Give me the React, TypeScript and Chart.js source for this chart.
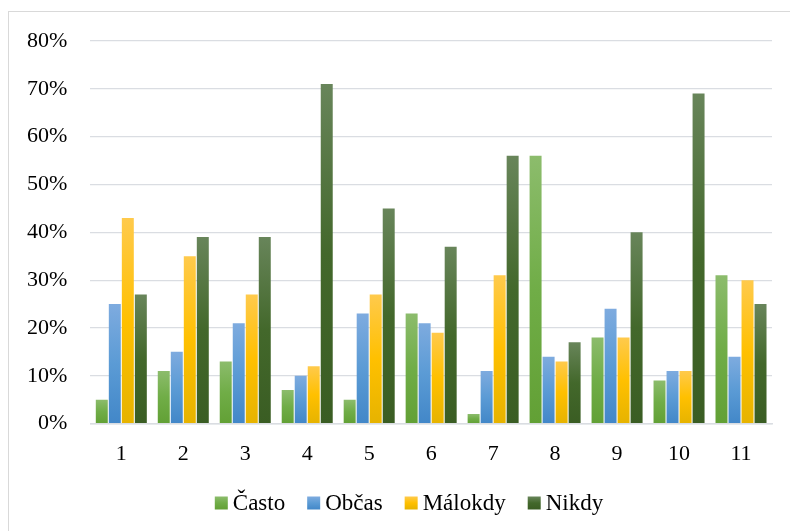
import React, { useEffect, useRef } from "react";
import { Chart, registerables } from "chart.js";

Chart.register(...registerables);

const categories = ["1", "2", "3", "4", "5", "6", "7", "8", "9", "10", "11"];
const casto = [5, 11, 13, 7, 5, 23, 2, 56, 18, 9, 31];
const obcas = [25, 15, 21, 10, 23, 21, 11, 14, 24, 11, 14];
const malokdy = [43, 35, 27, 12, 27, 19, 31, 13, 18, 11, 30];
const nikdy = [27, 39, 39, 71, 45, 37, 56, 17, 40, 69, 25];
const seriesNames = ["Často", "Občas", "Málokdy", "Nikdy"];
const yMax = 80;
const yStep = 10;

const palette: [string, string, string][] = [
  ["#8cbc6c", "#70ad47", "#62a035"],
  ["#7eabdf", "#5b9bd5", "#4287c8"],
  ["#ffca4c", "#ffc000", "#e6b300"],
  ["#68855a", "#43682b", "#3a5d23"],
];

const FONT = '"Liberation Serif", "Times New Roman", serif';

const gradientFill = (stops: [string, string, string]) => (ctx: any) => {
  const chart = ctx.chart;
  const { chartArea, scales } = chart;
  if (!chartArea || ctx.type !== "data" || !scales.y) return stops[1];
  const top = scales.y.getPixelForValue(ctx.raw);
  const base = scales.y.getPixelForValue(0);
  if (!(base > top)) return stops[1];
  const g = chart.ctx.createLinearGradient(0, top, 0, base);
  g.addColorStop(0, stops[0]);
  g.addColorStop(0.5, stops[1]);
  g.addColorStop(1, stops[2]);
  return g;
};

const legendPlugin = {
  id: "customLegend",
  afterDraw(chart: any) {
    const c = chart.ctx as CanvasRenderingContext2D;
    c.save();
    c.font = `23px ${FONT}`;
    const box = 13;
    const gapText = 5;
    const gapItem = 22;
    const centerX = 409;
    const y = 503;
    const items = chart.data.datasets.map((ds: any, i: number) => ({
      label: ds.label as string,
      stops: palette[i],
      w: c.measureText(ds.label).width,
    }));
    const total =
      items.reduce((s: number, it: any) => s + box + gapText + it.w, 0) +
      gapItem * (items.length - 1);
    let x = centerX - total / 2;
    c.textBaseline = "middle";
    c.textAlign = "left";
    for (const it of items) {
      const g = c.createLinearGradient(0, y - box / 2, 0, y + box / 2);
      g.addColorStop(0, it.stops[0]);
      g.addColorStop(0.5, it.stops[1]);
      g.addColorStop(1, it.stops[2]);
      c.fillStyle = g;
      c.fillRect(x, y - box / 2, box, box);
      c.fillStyle = "#000000";
      c.fillText(it.label, x + box + gapText, y + 1);
      x += box + gapText + it.w + gapItem;
    }
    c.restore();
  },
};

export default function App() {
  const canvasRef = useRef<HTMLCanvasElement | null>(null);

  useEffect(() => {
    if (!canvasRef.current) return;
    const seriesValues = [casto, obcas, malokdy, nikdy];
    const chart = new Chart(canvasRef.current, {
      type: "bar",
      data: {
        labels: categories,
        datasets: seriesValues.map((vals, i) => ({
          label: seriesNames[i],
          data: vals,
          backgroundColor: gradientFill(palette[i]),
          borderWidth: 0,
          categoryPercentage: 0.84,
          barPercentage: 0.92,
        })),
      },
      options: {
        animation: false,
        responsive: false,
        maintainAspectRatio: false,
        layout: { padding: { top: 41, left: 4, right: 18, bottom: 55 } },
        plugins: {
          legend: { display: false },
          tooltip: { enabled: false },
        },
        scales: {
          x: {
            grid: { display: false },
            border: { display: true, color: "#dadde2", width: 1.5 },
            ticks: {
              color: "#000000",
              font: { family: FONT, size: 22, lineHeight: 1.2 },
              padding: 9,
              maxRotation: 0,
            },
          },
          y: {
            min: 0,
            max: yMax,
            border: { display: false },
            grid: { color: "#dadde2", lineWidth: 1.2, drawTicks: false },
            ticks: {
              stepSize: yStep,
              color: "#000000",
              font: { family: FONT, size: 22, lineHeight: 1.2 },
              padding: 23,
              callback: (v: any) => `${v}%`,
            },
          },
        },
      },
      plugins: [legendPlugin],
    });
    return () => chart.destroy();
  }, []);

  return (
    <div
      style={{
        position: "fixed",
        left: 0,
        top: 0,
        width: 790,
        height: 531,
        overflow: "hidden",
        background: "#ffffff",
      }}
    >
      <div
        style={{
          position: "absolute",
          left: 8,
          top: 11,
          width: 810,
          height: 560,
          border: "1px solid #d9d9d9",
        }}
      />
      <canvas
        ref={canvasRef}
        width={790}
        height={531}
        style={{ position: "absolute", left: 0, top: 0, width: 790, height: 531 }}
      />
    </div>
  );
}
